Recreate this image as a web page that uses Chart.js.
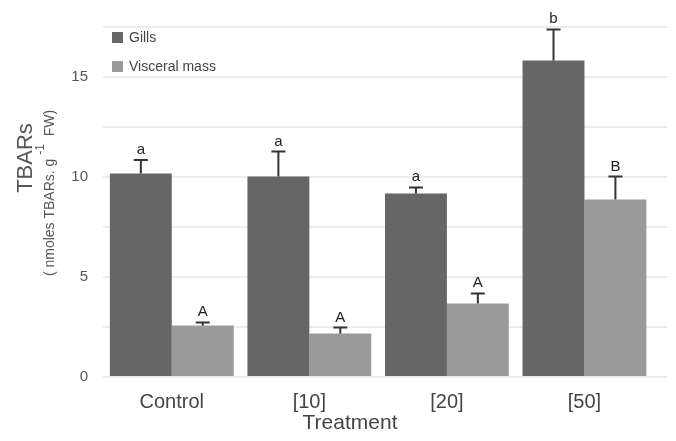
<!DOCTYPE html>
<html>
<head>
<meta charset="utf-8">
<script src="https://cdn.jsdelivr.net/npm/chart.js@4/dist/chart.umd.min.js"></script>
<style>html,body{margin:0;padding:0;background:#fff}</style>
</head>
<body>
<canvas id="chart" width="676" height="441"></canvas>
<script>
const treatments = ['Control', '[10]', '[20]', '[50]'];
const gills = [10.18, 10.03, 9.18, 15.82];
const gillsErr = [0.67, 1.24, 0.3, 1.56];
const gillsLetters = ['a', 'a', 'a', 'b'];
const visceral = [2.58, 2.18, 3.68, 8.88];
const visceralErr = [0.15, 0.29, 0.5, 1.14];
const visceralLetters = ['A', 'A', 'A', 'B'];
const yTicks = [0, 5, 10, 15];

const FONT = '"Liberation Sans", Arial, Helvetica, sans-serif';

// error bars + significance letters above each bar
const errorBars = {
  id: 'errorBars',
  afterDatasetsDraw(chart) {
    const { ctx } = chart;
    const y = chart.scales.y;
    chart.data.datasets.forEach((ds, di) => {
      chart.getDatasetMeta(di).data.forEach((bar, i) => {
        const top = y.getPixelForValue(ds.data[i].y + ds.err[i]);
        ctx.save();
        ctx.strokeStyle = '#333';
        ctx.lineWidth = 2;
        ctx.beginPath();
        ctx.moveTo(bar.x, bar.y);
        ctx.lineTo(bar.x, top);
        ctx.moveTo(bar.x - 7, top);
        ctx.lineTo(bar.x + 7, top);
        ctx.stroke();
        ctx.fillStyle = '#222';
        ctx.font = '15px ' + FONT;
        ctx.textAlign = 'center';
        ctx.textBaseline = 'alphabetic';
        ctx.fillText(ds.letters[i], bar.x, top - 6);
        ctx.restore();
      });
    });
  }
};

// legend inside plot + axis titles
const extras = {
  id: 'extras',
  afterDraw(chart) {
    const { ctx } = chart;
    ctx.save();
    chart.data.datasets.forEach((ds, i) => {
      const cy = 37 + i * 29;
      ctx.fillStyle = ds.backgroundColor;
      ctx.fillRect(112, cy - 5, 11, 11);
      ctx.fillStyle = '#444';
      ctx.font = '14px ' + FONT;
      ctx.textBaseline = 'middle';
      ctx.textAlign = 'left';
      ctx.fillText(ds.label, 129, cy + 1);
    });

    // x title
    ctx.fillStyle = '#444';
    ctx.font = '21px ' + FONT;
    ctx.textAlign = 'center';
    ctx.textBaseline = 'alphabetic';
    ctx.fillText('Treatment', 350, 429);

    // y title
    ctx.save();
    ctx.translate(32, 158);
    ctx.rotate(-Math.PI / 2);
    ctx.font = '22px ' + FONT;
    ctx.fillStyle = '#555';
    ctx.fillText('TBARs', 0, 0);
    ctx.restore();

    ctx.save();
    ctx.translate(54, 193);
    ctx.rotate(-Math.PI / 2);
    ctx.fillStyle = '#555';
    const p1 = '( nmoles TBARs. g ', sup = '-1', p2 = '  FW)';
    ctx.font = '14px ' + FONT;
    const w1 = ctx.measureText(p1).width, w3 = ctx.measureText(p2).width;
    ctx.font = '12px ' + FONT;
    const w2 = ctx.measureText(sup).width;
    let x = -(w1 + w2 + w3) / 2;
    ctx.textAlign = 'left';
    ctx.font = '14px ' + FONT;
    ctx.fillText(p1, x, 0);
    x += w1;
    ctx.font = '12px ' + FONT;
    ctx.fillText(sup, x, -10);
    x += w2;
    ctx.font = '14px ' + FONT;
    ctx.fillText(p2, x, 0);
    ctx.restore();
    ctx.restore();
  }
};

new Chart(document.getElementById('chart'), {
  type: 'bar',
  data: {
    datasets: [
      {
        label: 'Gills',
        data: gills.map((v, i) => ({ x: i, y: v })),
        err: gillsErr,
        letters: gillsLetters,
        backgroundColor: '#666666'
      },
      {
        label: 'Visceral mass',
        data: visceral.map((v, i) => ({ x: i, y: v })),
        err: visceralErr,
        letters: visceralLetters,
        backgroundColor: '#9a9a9a'
      }
    ]
  },
  options: {
    responsive: false,
    animation: false,
    categoryPercentage: 0.9,
    barPercentage: 1.0,
    layout: { padding: { top: 27, right: 9, left: 0, bottom: 0 } },
    plugins: { legend: { display: false }, tooltip: { enabled: false } },
    scales: {
      x: {
        type: 'linear',
        min: -0.5,
        max: 3.6,
        offset: false,
        afterFit(scale) { scale.height = 64; },
        grid: { display: false },
        border: { display: false },
        ticks: {
          stepSize: 1,
          includeBounds: false,
          autoSkip: false,
          maxRotation: 0,
          padding: 5,
          color: '#444',
          font: { size: 20, family: FONT },
          callback: v => treatments[v] ?? ''
        }
      },
      y: {
        min: 0,
        max: 17.5,
        afterFit(scale) { scale.width = 103; },
        grid: { color: '#ececec', lineWidth: 2, drawTicks: false },
        border: { display: false },
        ticks: {
          stepSize: 2.5,
          padding: 15,
          color: '#555',
          font: { size: 15, family: FONT },
          callback: v => yTicks.includes(v) ? v : ''
        }
      }
    }
  },
  plugins: [errorBars, extras]
});
</script>
</body>
</html>
